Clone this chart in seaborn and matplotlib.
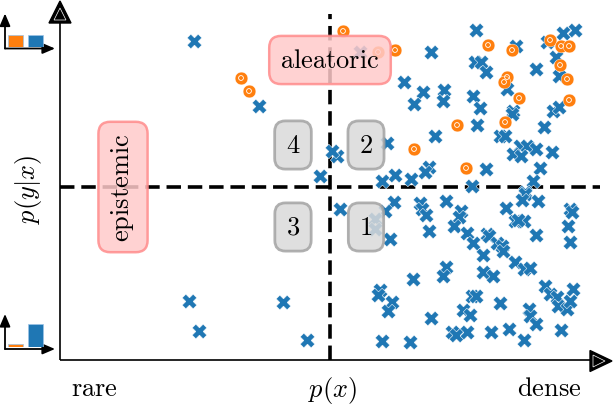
import matplotlib
matplotlib.use("Agg")
import matplotlib.pyplot as plt
from matplotlib.patches import Polygon
import seaborn as sns
import pandas as pd

sns.set_theme(style="white")
plt.rcParams['mathtext.fontset'] = 'cm'
plt.rcParams['font.family'] = ['DejaVu Sans']
plt.rcParams['text.color'] = 'black'

# ---- data (positions, in pixel-like units: x right, y down) ----
blue_x = [194, 259, 189, 199, 283, 307, 360,
          476, 575, 563, 516, 547, 431, 475, 481, 486, 536, 556, 559, 507, 404, 423, 414,
          444, 443, 473, 480, 513, 512, 553, 559, 477, 544, 435, 500, 505, 387, 337, 332,
          520, 527, 513, 521, 536, 552, 540, 486, 429, 425, 395, 382, 411, 320, 533, 472, 525,
          525, 522, 538, 340, 394, 385, 375, 375, 390, 420, 422, 426, 446, 461, 459, 454, 429,
          506, 515, 524, 518, 570, 572, 568, 570, 536, 467, 473, 487, 489, 497, 502, 503, 483,
          515, 524, 530, 483, 493, 446, 443, 413, 380, 378, 392, 388, 472, 476, 500, 463, 470,
          431, 452, 456, 467, 491, 509, 524, 529, 530, 536, 545, 550, 557, 558, 567, 570, 573,
          561, 382, 410]
blue_y = [42, 107, 302, 332, 303, 341, 53,
          31, 31, 34, 47, 43, 53, 63, 63, 73, 70, 58, 77, 90, 83, 93, 105,
          91, 102, 97, 109, 112, 115, 112, 108, 126, 128, 137, 137, 137, 144, 157, 152,
          147, 147, 155, 157, 150, 153, 169, 170, 168, 173, 176, 182, 180, 177, 182, 187, 193,
          195, 201, 202, 210, 203, 212, 220, 230, 240, 204, 210, 216, 202, 212, 218, 227, 232,
          209, 222, 222, 221, 210, 213, 227, 243, 236, 234, 244, 235, 237, 244, 247, 252, 256,
          263, 270, 269, 273, 277, 268, 277, 280, 291, 296, 303, 312, 297, 297, 304, 311, 316,
          319, 333, 336, 333, 333, 330, 341, 310, 317, 325, 287, 295, 298, 307, 310, 302, 290,
          331, 342, 343]

orange_x = [343, 395, 378, 488, 512, 550, 561, 569, 560, 567, 507, 504, 519, 569,
            457, 505, 414, 466, 241, 249]
orange_y = [32, 51, 53, 46, 51, 41, 47, 47, 66, 80, 78, 83, 99, 101,
            126, 123, 150, 169, 79, 92]

# decision thresholds (dashed lines)
px_threshold = 329.5
pyx_threshold = 187.5

# inset class-probability icons
icon_classes = ["orange", "blue"]
icon_top_probs = [0.5, 0.5]
icon_bottom_probs = [0.12, 0.96]

quadrant_labels = ["1", "2", "3", "4"]
quadrant_x = [366, 366, 293, 293]
quadrant_y = [228, 146, 228, 146]

BLUE = "#1f77b4"
ORANGE = "#ff7f0e"

W, H = 614, 410
fig = plt.figure(figsize=(W / 100, H / 100), dpi=100)
ax = fig.add_axes([0, 0, 1, 1])
ax.set_xlim(0, W)
ax.set_ylim(H, 0)
ax.axis("off")

# ---- main axes with arrows ----
ax.plot([60, 60], [361, 20], color="black", lw=1.2, zorder=5, solid_capstyle="butt")
ax.plot([60, 596], [361, 361], color="black", lw=1.2, zorder=5, solid_capstyle="butt")
ax.add_patch(Polygon([[60, 2], [49, 24], [71, 24]], closed=True, fc="black", ec="black", lw=1, zorder=6))
ax.add_patch(Polygon([[60, 9], [54, 21], [66, 21]], closed=True, fc="none", ec="white", lw=0.5, zorder=7))
ax.add_patch(Polygon([[612, 362], [590, 351.5], [590, 372.5]], closed=True, fc="black", ec="black", lw=1, zorder=6))
ax.add_patch(Polygon([[605, 362], [593, 356], [593, 368]], closed=True, fc="none", ec="white", lw=0.5, zorder=7))

# dashed threshold lines
ax.axvline(px_threshold, ymin=(H - 361) / H, ymax=(H - 15) / H, color="black", lw=2.6,
           dashes=(4.0, 1.9), zorder=2)
ax.plot([60, 600], [pyx_threshold, pyx_threshold], color="black", lw=2.6, dashes=(4.0, 1.9), zorder=2)

# ---- scatter points ----
dfb = pd.DataFrame({"px": blue_x, "pyx": blue_y})
dfo = pd.DataFrame({"px": orange_x, "pyx": orange_y})
sns.scatterplot(data=dfb, x="px", y="pyx", ax=ax, marker="X", s=110, color=BLUE,
                edgecolor="white", linewidth=0.35, zorder=3)
sns.scatterplot(data=dfo, x="px", y="pyx", ax=ax, marker="o", s=85, color=ORANGE,
                edgecolor="white", linewidth=0.3, zorder=3)
sns.scatterplot(data=dfo, x="px", y="pyx", ax=ax, marker="o", s=12, facecolor="none",
                edgecolor="white", linewidth=0.6, zorder=3)
ax.set_xlim(0, W)
ax.set_ylim(H, 0)
ax.axis("off")

# ---- text labels ----
FS = 19
ax.text(94, 389, r"$\mathrm{rare}$", fontsize=FS, ha="center", va="center", color="black")
ax.text(549, 389, r"$\mathrm{dense}$", fontsize=FS, ha="center", va="center", color="black")
ax.text(333, 391, r"$p(x)$", fontsize=FS, ha="center", va="center", color="black")
ax.text(28, 189, r"$p(y|x)$", fontsize=FS, ha="center", va="center", rotation=90, color="black")

pink_box = dict(boxstyle="round,pad=0.42,rounding_size=0.45", fc="#ffcaca", ec="#ff8c8c",
                lw=1.8, alpha=0.85)
ax.text(330, 61, r"$\mathrm{aleatoric}$", fontsize=FS, ha="center", va="center",
        bbox=pink_box, zorder=8, color="black")
ax.text(123, 188, r"$\mathrm{epistemic}$", fontsize=FS, ha="center", va="center",
        rotation=90, bbox=pink_box, zorder=8, color="black")

gray_box = dict(boxstyle="round,pad=0.42,rounding_size=0.4", fc="#dadada", ec="#a3a3a3",
                lw=2.0, alpha=0.85)
for lab, qx, qy in zip(quadrant_labels, quadrant_x, quadrant_y):
    ax.text(qx, qy, r"$%s$" % lab, fontsize=FS, ha="center", va="center", bbox=gray_box,
            zorder=8, color="black")

# ---- inset probability icons ----
arrow_kw = dict(arrowstyle="-|>,head_length=0.75,head_width=0.32", color="black", lw=1.3,
                mutation_scale=10, shrinkA=0, shrinkB=0)
for base_y, probs in [(49.5, icon_top_probs), (350, icon_bottom_probs)]:
    ax.annotate("", xy=(5, base_y - 35), xytext=(5, base_y), arrowprops=arrow_kw, zorder=6)
    ax.annotate("", xy=(55, base_y), xytext=(5, base_y), arrowprops=arrow_kw, zorder=6)
    iax = fig.add_axes([6 / W, (H - base_y + 1.8) / H, 49 / W, 34 / H])
    dfi = pd.DataFrame({"cls": icon_classes, "p": probs})
    sns.barplot(data=dfi, x="cls", y="p", hue="cls", palette=[ORANGE, BLUE], legend=False,
                ax=iax, width=0.75, edgecolor="#9cc3e6", linewidth=0.5, saturation=1)
    iax.set_xlim(-0.46, 1.99)
    iax.set_ylim(0, 34 / 24)
    iax.axis("off")

fig.savefig("out.png", dpi=100)
